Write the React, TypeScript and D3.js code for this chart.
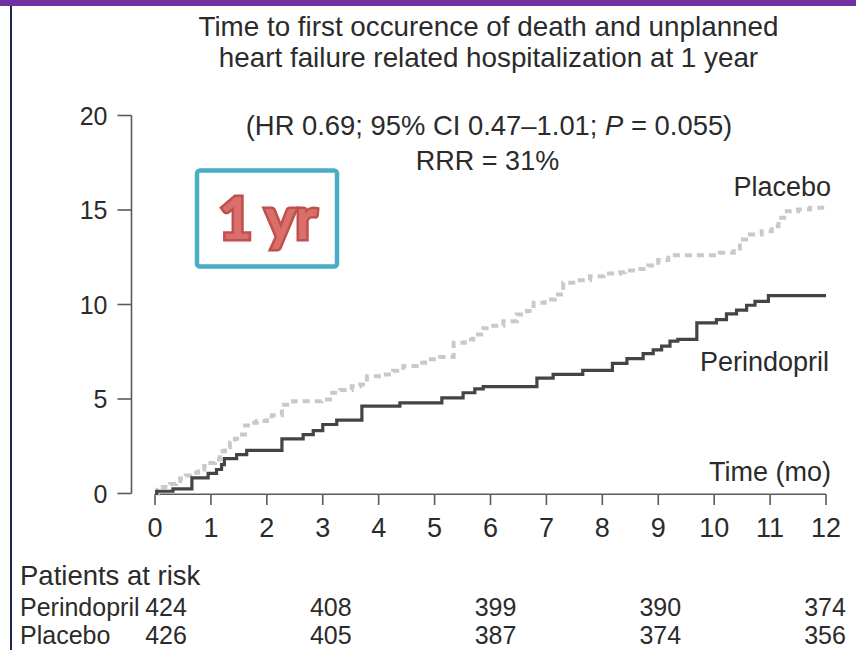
import React from "react";
import * as d3 from "d3";

// Kaplan–Meier cumulative event curves (% of patients), step-after [month, percent]
const perindoprilSteps: [number, number][] = [
  [0, 0], [0.03, 0.12], [0.32, 0.25], [0.66, 0.83], [0.95, 1.06], [1.1, 1.27],
  [1.19, 1.53], [1.24, 1.84], [1.46, 2.06], [1.64, 2.28], [2.27, 2.89],
  [2.65, 3.12], [2.83, 3.33], [3.0, 3.65], [3.25, 3.88], [3.7, 4.62],
  [4.38, 4.8], [5.13, 5.06], [5.51, 5.33], [5.72, 5.54], [5.87, 5.65],
  [6.83, 6.1], [7.12, 6.3], [7.65, 6.51], [8.18, 6.88], [8.44, 7.14],
  [8.73, 7.4], [8.91, 7.6], [9.06, 7.8], [9.21, 8.06], [9.35, 8.15],
  [9.69, 9.03], [10.04, 9.2], [10.22, 9.5], [10.4, 9.7], [10.58, 9.96],
  [10.73, 10.17], [10.97, 10.47], [12, 10.47],
];

const placeboSteps: [number, number][] = [
  [0, 0], [0.05, 0.2], [0.14, 0.35], [0.27, 0.5], [0.38, 0.65], [0.45, 0.8],
  [0.55, 0.95], [0.63, 1.1], [0.77, 1.27], [0.88, 1.45], [0.95, 1.62],
  [1.07, 1.8], [1.16, 2.24], [1.25, 2.45], [1.34, 2.68], [1.43, 2.9],
  [1.52, 3.12], [1.61, 3.6], [1.7, 3.74], [1.82, 3.83], [2.0, 4.09],
  [2.09, 4.14], [2.27, 4.7], [2.47, 4.88], [2.98, 4.97], [3.13, 5.33],
  [3.31, 5.47], [3.52, 5.68], [3.67, 5.77], [3.79, 6.2], [4.05, 6.3],
  [4.26, 6.5], [4.44, 6.75], [4.68, 6.92], [4.83, 7.1], [5.1, 7.22],
  [5.34, 7.97], [5.54, 8.15], [5.69, 8.41], [5.87, 8.75], [6.05, 8.88],
  [6.23, 9.12], [6.47, 9.47], [6.65, 9.65], [6.77, 10.09], [6.97, 10.26],
  [7.15, 10.53], [7.3, 11.15], [7.54, 11.28], [7.78, 11.5], [8.02, 11.64],
  [8.32, 11.7], [8.4, 11.8], [8.64, 11.88], [8.82, 12.06], [9.0, 12.35],
  [9.18, 12.6], [10.1, 12.74], [10.35, 12.82], [10.46, 13.44], [10.64, 13.7],
  [10.85, 13.88], [11.03, 14.14], [11.15, 14.59], [11.3, 14.94],
  [11.5, 15.03], [11.71, 15.12], [12, 15.12],
];

const xTicks = [0, 1, 2, 3, 4, 5, 6, 7, 8, 9, 10, 11, 12];
const yTicks = [0, 5, 10, 15, 20];

const riskMonths = [0, 3, 6, 9, 12];
const riskPerindopril = [424, 408, 399, 390, 374];
const riskPlacebo = [426, 405, 387, 374, 356];

const titleLines = [
  "Time to first occurence of death and unplanned",
  "heart failure related hospitalization at 1 year",
];

const W = 856;
const H = 650;
const FONT = "'Liberation Sans', Arial, Helvetica, sans-serif";
const TEXT = "#2b2b2b";
const AXIS = "#5a5a5a";

export default function App() {
  const x = d3.scaleLinear().domain([0, 12]).range([155, 826]);
  const y = d3.scaleLinear().domain([0, 20]).range([493.5, 115.5]);
  const riskX = d3.scaleLinear().domain([0, 12]).range([166, 825]);
  const yAxisX = 131.5;

  const line = d3
    .line<[number, number]>()
    .x((d) => x(d[0]))
    .y((d) => y(d[1]))
    .curve(d3.curveStepAfter);

  return (
    <svg
      width={W}
      height={H}
      viewBox={`0 0 ${W} ${H}`}
      style={{ position: "absolute", left: 0, top: 0, display: "block", background: "#fff" }}
      fontFamily={FONT}
    >
      <rect x={0} y={0} width={W} height={H} fill="#fff" />
      {/* slide frame */}
      <rect x={0} y={0} width={W} height={6} fill="#7030a0" />
      <rect x={10} y={6} width={2} height={H - 6} fill="#1f2a4f" />

      {/* title */}
      {titleLines.map((t, i) => (
        <text key={i} x={488.5} y={35.5 + i * 31} textAnchor="middle" fontSize={27.8} fill={TEXT}>
          {t}
        </text>
      ))}

      {/* y axis */}
      <line x1={yAxisX} x2={yAxisX} y1={y(20)} y2={y(0)} stroke={AXIS} strokeWidth={1.6} />
      {yTicks.map((v) => (
        <g key={v}>
          <line x1={yAxisX - 14} x2={yAxisX} y1={y(v)} y2={y(v)} stroke={AXIS} strokeWidth={1.6} />
          <text x={yAxisX - 24} y={y(v) + 9} textAnchor="end" fontSize={25} fill={TEXT}>
            {v}
          </text>
        </g>
      ))}

      {/* x axis */}
      <line x1={x(0)} x2={x(12)} y1={494.3} y2={494.3} stroke={AXIS} strokeWidth={1.6} />
      {xTicks.map((v) => (
        <g key={v}>
          <line x1={x(v)} x2={x(v)} y1={494.3} y2={505} stroke={AXIS} strokeWidth={1.6} />
          <text x={x(v)} y={537} textAnchor="middle" fontSize={27} fill={TEXT}>
            {v}
          </text>
        </g>
      ))}

      {/* curves */}
      <path d={line(placeboSteps) || ""} fill="none" stroke="#c9c9c9" strokeWidth={4} strokeDasharray="7,5" />
      <path d={line(perindoprilSteps) || ""} fill="none" stroke="#444" strokeWidth={3.2} />

      {/* annotations */}
      <text x={489} y={135} textAnchor="middle" fontSize={27.4} fill={TEXT}>
        (HR 0.69; 95% CI 0.47–1.01; <tspan fontStyle="italic">P</tspan> = 0.055)
      </text>
      <text x={487.5} y={170} textAnchor="middle" fontSize={27} fill={TEXT}>
        RRR = 31%
      </text>
      <text x={831} y={196} textAnchor="end" fontSize={27} fill={TEXT}>
        Placebo
      </text>
      <text x={829} y={371} textAnchor="end" fontSize={27} fill={TEXT}>
        Perindopril
      </text>
      <text x={831} y={481} textAnchor="end" fontSize={27} fill={TEXT}>
        Time (mo)
      </text>

      {/* 1 yr callout */}
      <rect x={197} y={170.5} width={140} height={96} rx={3} fill="#fff" stroke="#4bacc6" strokeWidth={4.5} />
      <text
        x={268}
        y={239}
        textAnchor="middle"
        fontSize={58}
        fontWeight="bold"
        fill="#d96e6b"
        stroke="#c0504d"
        strokeWidth={5}
        paintOrder="stroke"
        fontFamily="Lato, 'Open Sans', sans-serif"
      >
        1 yr
      </text>

      {/* patients at risk */}
      <text x={20} y={585} fontSize={27.5} fill={TEXT}>
        Patients at risk
      </text>
      <text x={20} y={616} fontSize={25} fill={TEXT}>
        Perindopril
      </text>
      <text x={20} y={644} fontSize={25} fill={TEXT}>
        Placebo
      </text>
      {riskMonths.map((m, i) => (
        <g key={m}>
          <text x={riskX(m)} y={616} textAnchor="middle" fontSize={25} fill={TEXT}>
            {riskPerindopril[i]}
          </text>
          <text x={riskX(m)} y={644} textAnchor="middle" fontSize={25} fill={TEXT}>
            {riskPlacebo[i]}
          </text>
        </g>
      ))}
    </svg>
  );
}
